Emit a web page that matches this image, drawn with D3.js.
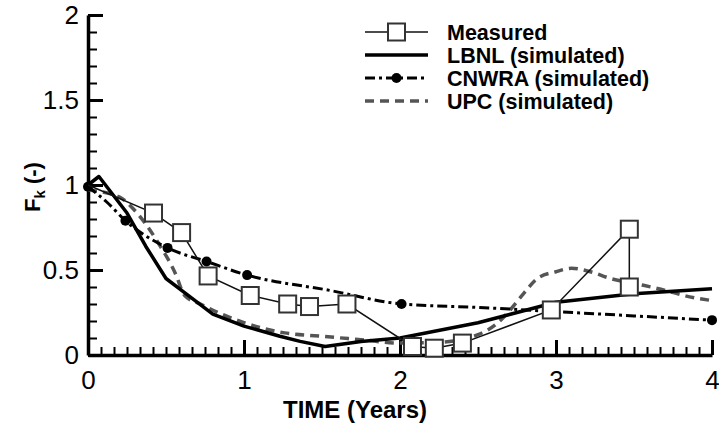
<!DOCTYPE html>
<html>
<head>
<meta charset="utf-8">
<script src="https://cdn.jsdelivr.net/npm/d3@7"></script>
<style>
  html, body { margin: 0; padding: 0; background: #fff; }
  svg { display: block; font-family: "Liberation Sans", Arial, sans-serif; }
</style>
</head>
<body>
<svg id="chart" width="719" height="434"></svg>
<script>
// ---------- data ----------
const xTickValues = [0, 1, 2, 3, 4];
const xTickLabels = ["0", "1", "2", "3", "4"];
const yTickValues = [0, 0.5, 1, 1.5, 2];
const yTickLabels = ["0", "0.5", "1", "1.5", "2"];

const seriesNames = ["Measured", "LBNL (simulated)", "CNWRA (simulated)", "UPC (simulated)"];

const measuredT = [0, 0.42, 0.60, 0.77, 1.04, 1.28, 1.42, 1.66, 2.08, 2.22, 2.40, 2.97, 3.47, 3.47];
const measuredF = [1.0, 0.835, 0.72, 0.465, 0.35, 0.30, 0.285, 0.30, 0.05, 0.04, 0.07, 0.265, 0.74, 0.40];
const measuredHasMarker = [false, true, true, true, true, true, true, true, true, true, true, true, true, true];

const lbnlT = [0, 0.07, 0.25, 0.37, 0.5, 0.6, 0.8, 1.0, 1.23, 1.36, 1.52, 1.75, 2.0, 2.5, 3.0, 3.5, 4.0];
const lbnlF = [1.0, 1.05, 0.835, 0.64, 0.45, 0.38, 0.24, 0.17, 0.11, 0.08, 0.05, 0.08, 0.10, 0.19, 0.31, 0.36, 0.39];

const cnwraT = [0, 0.12, 0.24, 0.51, 0.76, 1.02, 1.55, 2.01, 2.5, 3.0, 3.5, 4.0];
const cnwraF = [0.99, 0.90, 0.79, 0.63, 0.55, 0.47, 0.38, 0.30, 0.28, 0.255, 0.23, 0.205];
const cnwraHasMarker = [true, false, true, true, true, true, false, true, false, false, false, true];

const upcT = [0, 0.2, 0.3, 0.45, 0.56, 0.62, 0.72, 1.0, 1.26, 1.5, 1.75, 2.0, 2.25, 2.5, 2.64, 2.72, 2.8, 2.88, 3.0, 3.1, 3.22, 3.35, 3.56, 3.7, 3.82, 4.0];
const upcF = [0.97, 0.93, 0.85, 0.66, 0.48, 0.35, 0.30, 0.19, 0.13, 0.11, 0.09, 0.07, 0.075, 0.12, 0.20, 0.28, 0.37, 0.45, 0.49, 0.51, 0.49, 0.45, 0.41, 0.38, 0.35, 0.32];

// ---------- layout ----------
const svg = d3.select("#chart");
const x = d3.scaleLinear().domain([0, 4]).range([88, 712]);
const y = d3.scaleLinear().domain([0, 2]).range([355, 15]);

const zip = (a, b) => a.map((v, i) => [v, b[i]]);
const measured = zip(measuredT, measuredF);
const lbnl = zip(lbnlT, lbnlF);
const cnwra = zip(cnwraT, cnwraF);
const upc = zip(upcT, upcF);

const line = d3.line().x(d => x(d[0])).y(d => y(d[1]));
const smooth = d3.line().x(d => x(d[0])).y(d => y(d[1])).curve(d3.curveMonotoneX);

// ---------- axes ----------
const xMinor = d3.range(0, 48 + 1).map(i => i / 12);
const yMinor = d3.range(0, 20 + 1).map(i => i / 10);

svg.append("g").attr("transform", `translate(0,${y(0)})`)
  .call(d3.axisBottom(x).tickValues(xMinor).tickSize(-8).tickFormat(""))
  .call(g => g.select(".domain").remove())
  .call(g => g.selectAll("line").attr("stroke", "#000").attr("stroke-width", 2));

svg.append("g").attr("transform", `translate(${x(0)},0)`)
  .call(d3.axisLeft(y).tickValues(yMinor).tickSize(-9).tickFormat(""))
  .call(g => g.select(".domain").remove())
  .call(g => g.selectAll("line").attr("stroke", "#000").attr("stroke-width", 2));

svg.append("g").attr("transform", `translate(0,${y(0)})`)
  .call(d3.axisBottom(x).tickValues(xTickValues).tickSize(-15).tickSizeOuter(0).tickPadding(16)
        .tickFormat((d, i) => xTickLabels[i]))
  .call(g => g.select(".domain").attr("stroke", "#000").attr("stroke-width", 3.5))
  .call(g => g.selectAll("line").attr("stroke", "#000").attr("stroke-width", 3))
  .call(g => g.selectAll("text").attr("fill", "#000").attr("font-size", 26)
        .attr("font-family", "Liberation Sans, Arial, sans-serif"));

svg.append("g").attr("transform", `translate(${x(0)},0)`)
  .call(d3.axisLeft(y).tickValues(yTickValues).tickSize(-15).tickSizeOuter(0).tickPadding(9)
        .tickFormat((d, i) => yTickLabels[i]))
  .call(g => g.select(".domain").attr("stroke", "#000").attr("stroke-width", 3.5))
  .call(g => g.selectAll("line").attr("stroke", "#000").attr("stroke-width", 3))
  .call(g => g.selectAll("text").attr("fill", "#000").attr("font-size", 26)
        .attr("font-family", "Liberation Sans, Arial, sans-serif"));

// axis titles
svg.append("text")
  .attr("x", 355).attr("y", 418)
  .attr("text-anchor", "middle")
  .attr("font-size", 24).attr("font-weight", "bold")
  .text("TIME (Years)");

const yt = svg.append("text")
  .attr("transform", "translate(40,187) rotate(-90)")
  .attr("text-anchor", "middle")
  .attr("font-size", 22).attr("font-weight", "bold");
yt.append("tspan").text("F");
yt.append("tspan").attr("font-size", 15).attr("dy", 5).text("k");
yt.append("tspan").attr("dy", -5).text(" (-)");

// ---------- series ----------
const styles = {
  measured: { stroke: "#111", width: 1.5, dash: null },
  lbnl: { stroke: "#000", width: 3.5, dash: null },
  cnwra: { stroke: "#000", width: 3, dash: "10,4,3,4" },
  upc: { stroke: "#555", width: 3.5, dash: "9,6" }
};

const plot = svg.append("g");

plot.append("path").datum(upc).attr("d", smooth)
  .attr("fill", "none").attr("stroke", styles.upc.stroke)
  .attr("stroke-width", styles.upc.width).attr("stroke-dasharray", styles.upc.dash);

plot.append("path").datum(lbnl).attr("d", line)
  .attr("fill", "none").attr("stroke", styles.lbnl.stroke)
  .attr("stroke-width", styles.lbnl.width).attr("stroke-linejoin", "round");

plot.append("path").datum(cnwra).attr("d", smooth)
  .attr("fill", "none").attr("stroke", styles.cnwra.stroke)
  .attr("stroke-width", styles.cnwra.width).attr("stroke-dasharray", styles.cnwra.dash);

plot.selectAll("circle.cn").data(cnwra.filter((d, i) => cnwraHasMarker[i]))
  .join("circle").attr("class", "cn")
  .attr("cx", d => x(d[0])).attr("cy", d => y(d[1])).attr("r", 5)
  .attr("fill", "#000");

plot.append("path").datum(measured).attr("d", line)
  .attr("fill", "none").attr("stroke", styles.measured.stroke)
  .attr("stroke-width", styles.measured.width);

const sq = 17;
plot.selectAll("rect.ms").data(measured.filter((d, i) => measuredHasMarker[i]))
  .join("rect").attr("class", "ms")
  .attr("x", d => x(d[0]) - sq / 2).attr("y", d => y(d[1]) - sq / 2)
  .attr("width", sq).attr("height", sq)
  .attr("fill", "#fff").attr("stroke", "#333").attr("stroke-width", 2);

// ---------- legend ----------
const legBase = [40, 63, 86, 109];
const lx0 = 365, lx1 = 428, tx = 447;
const legend = svg.append("g");
seriesNames.forEach((name, i) => {
  const ly = legBase[i] - 8;
  const key = ["measured", "lbnl", "cnwra", "upc"][i];
  const st = styles[key];
  legend.append("line").attr("x1", lx0).attr("x2", lx1).attr("y1", ly).attr("y2", ly)
    .attr("stroke", st.stroke).attr("stroke-width", st.width)
    .attr("stroke-dasharray", st.dash);
  if (key === "measured") {
    legend.append("rect").attr("x", (lx0 + lx1) / 2 - sq / 2).attr("y", ly - sq / 2)
      .attr("width", sq).attr("height", sq)
      .attr("fill", "#fff").attr("stroke", "#333").attr("stroke-width", 2);
  }
  if (key === "cnwra") {
    legend.append("circle").attr("cx", (lx0 + lx1) / 2).attr("cy", ly).attr("r", 5).attr("fill", "#000");
  }
  legend.append("text").attr("x", tx).attr("y", legBase[i])
    .attr("font-size", 21.5).attr("font-weight", "bold").text(name);
});
</script>
</body>
</html>
